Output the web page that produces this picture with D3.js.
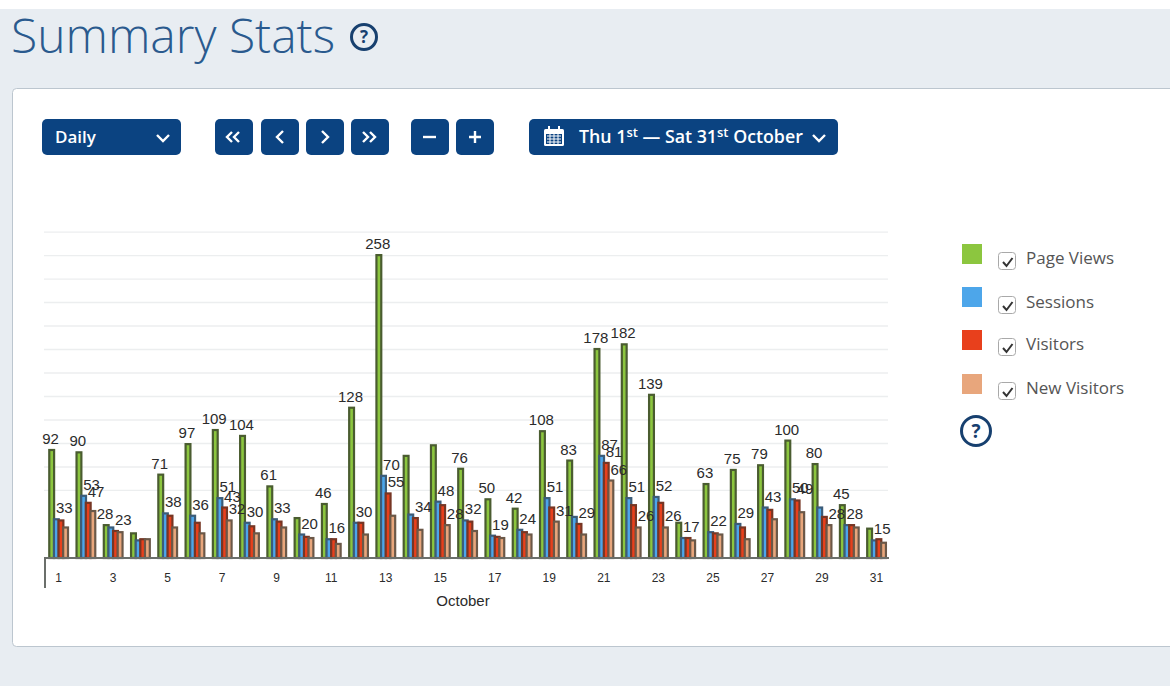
<!DOCTYPE html>
<html lang="en">

<head>
    <meta charset="UTF-8">
    <script src="https://d3js.org/d3.v7.min.js"></script>
    <style>
        html, body { margin: 0; padding: 0; background: #fff; overflow: hidden; }
        svg { display: block; }
        .ui { font-family: "Open Sans", sans-serif; }
        .plot text { font-family: "Liberation Sans", Arial, sans-serif; }
    </style>
    <title>Summary Stats</title>
</head>

<body>
    <div class="canvas"></div>
    <script>
        const days = d3.range(1, 32)
        const tickDays = [1, 3, 5, 7, 9, 11, 13, 15, 17, 19, 21, 23, 25, 27, 29, 31]
        const gridValues = [278, 258, 238, 218, 198, 178, 158, 138, 118, 98, 78, 58]
        const seriesNames = ['Page Views', 'Sessions', 'Visitors', 'New Visitors']

        const pageViews = [92, 90, 28, 21, 71, 97, 109, 104, 61, 34, 46, 128, 258, 87, 96, 76, 50, 42, 108, 83, 178, 182, 139, 30, 63, 75, 79, 100, 80, 45, 25]
        const sessions = [33, 53, 26, 15, 38, 36, 51, 30, 33, 20, 16, 30, 70, 37, 48, 32, 19, 24, 51, 35, 87, 51, 52, 17, 22, 29, 43, 50, 43, 28, 15]
        const visitors = [32, 47, 23, 16, 36, 30, 43, 27, 31, 18, 16, 30, 55, 34, 45, 31, 18, 22, 43, 29, 81, 45, 47, 17, 21, 26, 41, 49, 35, 28, 16]
        const newVisitors = [26, 40, 22, 16, 26, 21, 32, 21, 26, 17, 12, 20, 36, 24, 28, 23, 17, 20, 31, 20, 66, 26, 26, 15, 20, 16, 33, 39, 28, 26, 13]

        // days whose value label is visible, the chart drops the ones that collide
        const pageLabelDays = [1, 2, 3, 5, 6, 7, 8, 9, 11, 12, 13, 16, 17, 18, 19, 20, 21, 22, 23, 25, 26, 27, 28, 29, 30]
        const sessionLabelDays = [1, 2, 5, 6, 7, 8, 9, 10, 11, 12, 13, 15, 16, 17, 18, 19, 21, 22, 23, 24, 25, 26, 27, 28, 30, 31]
        const visitorLabelDays = [2, 3, 7, 13, 14, 20, 21, 28]
        const newLabelDays = [7, 15, 19, 21, 22, 23, 29]

        const allValues = [pageViews, sessions, visitors, newVisitors]
        const allLabelDays = [pageLabelDays, sessionLabelDays, visitorLabelDays, newLabelDays]
        const fills = ['#8cc63f', '#4da6ea', '#e8401c', '#e8a67c']
        const strokes = ['#4a5c30', '#3c5c78', '#763624', '#6b5848']

        const areaWidth = 1176
        const areaHeight = 686
        const shotWidth = 1170
        const navy = '#0b4381'

        const svg = d3.select('.canvas')
            .append('svg')
            .attr('width', areaWidth)
            .attr('height', areaHeight)

        // page background and card, the screenshot stops 6px short of the right edge
        svg.append('rect').attr('y', 9).attr('width', shotWidth).attr('height', areaHeight - 9).attr('fill', '#e8edf2')
        svg.append('rect')
            .attr('x', 12.5).attr('y', 88.5).attr('width', 1180).attr('height', 558).attr('rx', 4)
            .attr('fill', '#fff').attr('stroke', '#bcc6cf')
        svg.append('rect').attr('x', shotWidth).attr('width', areaWidth - shotWidth).attr('height', areaHeight).attr('fill', '#fff')

        const ui = svg.append('g').attr('class', 'ui')
        ui.append('text')
            .attr('x', 11).attr('y', 53)
            .attr('font-size', 48).attr('font-weight', 300).attr('fill', '#2a5a8e')
            .text('Summary Stats')

        function helpIcon(cx, cy, r, w, size) {
            ui.append('circle').attr('cx', cx).attr('cy', cy).attr('r', r)
                .attr('fill', 'none').attr('stroke', '#17406f').attr('stroke-width', w)
            ui.append('text').attr('x', cx).attr('y', cy + size * 0.36)
                .attr('text-anchor', 'middle').attr('font-size', size).attr('font-weight', 700)
                .attr('fill', '#17406f').text('?')
        }
        helpIcon(364, 37, 12.5, 3, 17)

        // toolbar
        function button(x, w) {
            ui.append('rect').attr('x', x).attr('y', 119).attr('width', w).attr('height', 36).attr('rx', 5).attr('fill', navy)
        }
        function glyph(d) {
            ui.append('path').attr('d', d).attr('fill', 'none').attr('stroke', '#fff')
                .attr('stroke-width', 2.4)
        }
        button(42, 139)
        ui.append('text').attr('x', 55).attr('y', 143)
            .attr('font-size', 17).attr('font-weight', 600).attr('fill', '#fff').text('Daily')
        glyph('M157 135l6 6l6 -6')

        button(215, 38); glyph('M232 132l-5 5l5 5M239 132l-5 5l5 5')
        button(261, 38); glyph('M283 131l-6 6l6 6')
        button(306, 38); glyph('M322 131l6 6l-6 6')
        button(351, 38); glyph('M363 132l5 5l-5 5M370 132l5 5l-5 5')
        button(411, 38); glyph('M423 137h13')
        button(456, 38); glyph('M469 137h12M475 131v12')
        button(529, 309)

        // calendar icon
        ui.append('rect').attr('x', 544).attr('y', 129).attr('width', 20).attr('height', 17).attr('rx', 1.5).attr('fill', '#fff')
        ui.append('rect').attr('x', 546).attr('y', 134).attr('width', 16).attr('height', 10).attr('fill', navy)
        ui.append('path').attr('d', 'M547 136h14M547 139h14M547 142h14M550 134v10M554 134v10M558 134v10')
            .attr('stroke', '#fff').attr('stroke-width', 1)
        ui.append('path').attr('d', 'M549 126v5M559 126v5').attr('stroke', '#fff').attr('stroke-width', 2)

        const dateLabel = ui.append('text').attr('x', 579).attr('y', 143)
            .attr('font-size', 17.8).attr('font-weight', 600).attr('fill', '#fff')
        dateLabel.append('tspan').text('Thu 1')
        dateLabel.append('tspan').attr('dy', -6).attr('font-size', 13).text('st')
        dateLabel.append('tspan').attr('dy', 6).text(' — Sat 31')
        dateLabel.append('tspan').attr('dy', -6).attr('font-size', 13).text('st')
        dateLabel.append('tspan').attr('dy', 6).text(' October')
        glyph('M813 135l6 6l6 -6')

        // chart
        const baseline = 558
        const x = d3.scaleBand()
            .domain(days)
            .range([46, 889])
            .paddingInner(0.32)
            .paddingOuter(0.12)

        const xSeries = d3.scaleBand()
            .domain(d3.range(4))
            .range([0, x.bandwidth()])

        const y = d3.scaleLinear()
            .domain([0, 280])
            .range([baseline, baseline - 280 * 1.174])

        const plot = svg.append('g').attr('class', 'plot')

        plot.selectAll('.grid').data(gridValues).enter()
            .append('line')
            .attr('class', 'grid')
            .attr('x1', 44).attr('x2', 888)
            .attr('y1', d => y(d) + 0.5).attr('y2', d => y(d) + 0.5)
            .attr('stroke', '#eceeef').attr('stroke-width', 1.4)

        allValues.forEach((values, s) => {
            plot.selectAll('.bar' + s).data(days).enter()
                .append('rect')
                .attr('class', 'bar' + s)
                .attr('x', d => x(d) + xSeries(s))
                .attr('y', d => y(values[d - 1]))
                .attr('width', xSeries.bandwidth() + 0.2)
                .attr('height', d => baseline - y(values[d - 1]))
                .attr('fill', fills[s])
                .attr('stroke', strokes[s])
                .attr('stroke-width', 2.2)
        })

        allValues.forEach((values, s) => {
            plot.selectAll('.label' + s).data(allLabelDays[s]).enter()
                .append('text')
                .attr('class', 'label' + s)
                .attr('x', d => x(d) + xSeries(s) + xSeries.bandwidth() / 2 + (s === 0 ? -1 : 8))
                .attr('y', d => y(values[d - 1]) - 6)
                .attr('text-anchor', 'middle')
                .attr('font-size', 15)
                .attr('fill', '#2b2b2b')
                .text(d => values[d - 1])
        })

        const xAxis = d3.axisBottom(x).tickValues(tickDays).tickSize(0).tickPadding(15)
        const xAxisG = plot.append('g').attr('transform', `translate(0,${baseline})`).call(xAxis)
        xAxisG.select('.domain').attr('stroke', '#6b6f6b').attr('stroke-width', 2).attr('d', 'M45,30V0H889')
        xAxisG.selectAll('text').attr('font-size', 12).attr('fill', '#2b2b2b')

        plot.append('text')
            .attr('x', 463).attr('y', 606)
            .attr('text-anchor', 'middle').attr('font-size', 15).attr('fill', '#2b2b2b')
            .text('October')

        // legend
        const legendSwatchY = [244, 287, 330, 374]
        const legendCheckY = [252, 296, 338, 382]
        const legendTextY = [264, 308, 350, 394]
        const legend = ui.selectAll('.legend').data(seriesNames).enter().append('g').attr('class', 'legend')
        legend.append('rect')
            .attr('x', 962).attr('y', (d, i) => legendSwatchY[i])
            .attr('width', 20).attr('height', 20)
            .attr('fill', (d, i) => fills[i])
        legend.append('rect')
            .attr('x', 998.5).attr('y', (d, i) => legendCheckY[i] + 0.5)
            .attr('width', 17).attr('height', 17).attr('rx', 3)
            .attr('fill', '#fff').attr('stroke', '#a9a9a9')
        legend.append('path')
            .attr('d', (d, i) => `M1003 ${legendCheckY[i] + 10}l3.5 4l6 -8`)
            .attr('fill', 'none').attr('stroke', '#333').attr('stroke-width', 2)
        legend.append('text')
            .attr('x', 1026).attr('y', (d, i) => legendTextY[i])
            .attr('font-size', 17).attr('fill', '#555')
            .text(d => d)

        helpIcon(976, 431, 14.5, 3, 19)
    </script>

</body>

</html>
